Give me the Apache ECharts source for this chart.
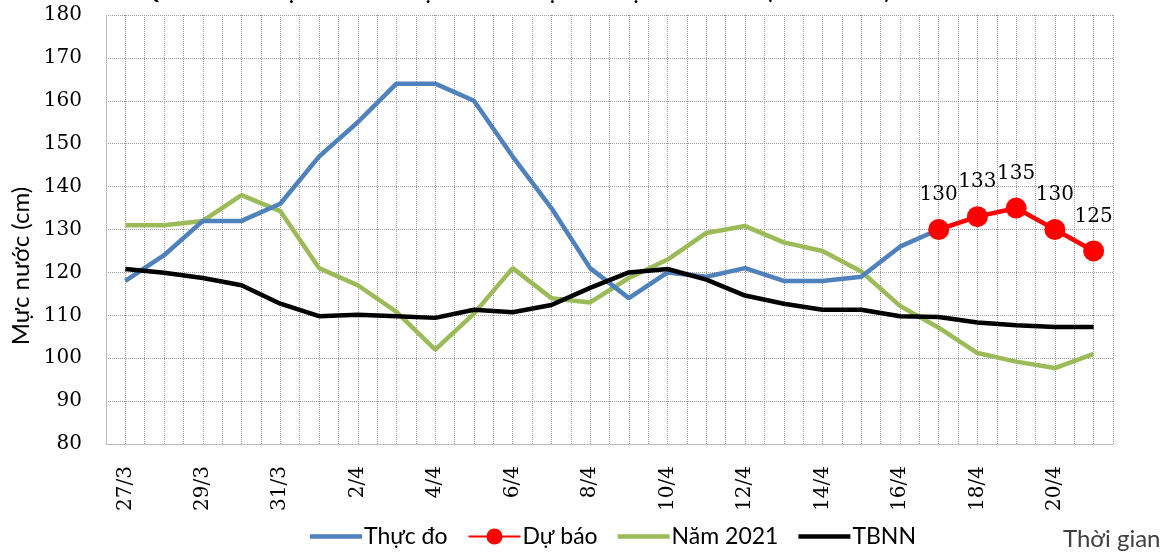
<!DOCTYPE html>
<html>
<head>
<meta charset="utf-8">
<script src="https://cdn.jsdelivr.net/npm/echarts@6/dist/echarts.min.js"></script>
<style>
html,body{margin:0;padding:0;background:#fff;}
#chart{width:1174px;height:559px;}
</style>
</head>
<body>
<div id="chart"></div>
<script>
const categories = ['27/3','28/3','29/3','30/3','31/3','1/4','2/4','3/4','4/4','5/4','6/4','7/4','8/4','9/4','10/4','11/4','12/4','13/4','14/4','15/4','16/4','17/4','18/4','19/4','20/4','21/4'];
const thucDo = [118,124,132,132,136,147,155,164,164,160,147,135,121,114,120,119,121,118,118,119,126,130,null,null,null,null];
const duBao = [null,null,null,null,null,null,null,null,null,null,null,null,null,null,null,null,null,null,null,null,null,130,133,135,130,125];
const nam2021 = [131,131,132,138,134.3,121,117,110.8,102,110.4,121,114,113,118.7,123,129.2,130.8,127,125,120.2,112.2,107.1,101.2,99.2,97.7,101];
const tbnn = [120.8,119.9,118.7,117,112.7,109.8,110.1,109.8,109.4,111.3,110.7,112.4,116.4,120,120.8,118.3,114.6,112.7,111.3,111.3,109.8,109.6,108.3,107.7,107.3,107.3];
const yTicks = {min:80, max:180, step:10};
const seriesNames = ['Thực đo','Dự báo','Năm 2021','TBNN'];
const titleText = 'QUÁ TRÌNH MỰC NƯỚC THỰC ĐO VÀ DỰ BÁO TẠI TÂN CHÂU (SÔNG TIỀN)';
const xName = 'Thời gian';
const yName = 'Mực nước (cm)';

const chart = echarts.init(document.getElementById('chart'), null, {renderer:'canvas'});
const serif = 'DejaVu Serif';
const sans = 'Lato';
const grid = {left:106, right:61, top:15, bottom:115};
const lineIcon = 'path://M0,0 L52,0 L52,4.5 L0,4.5 Z';
const option = {
  animation:false,
  backgroundColor:'#ffffff',
  graphic:[
    {type:'text', left:142, top:-18, style:{text:titleText, font:'bold 21px '+sans, fill:'#000'}},
    {type:'text', left:1063, top:527, style:{text:xName, font:'24px '+sans, fill:'#404040'}},
    {type:'text', x:21, y:266, rotation:Math.PI/2,
      style:{text:yName, font:'24px '+sans, fill:'#000', align:'center', verticalAlign:'middle'}}
  ],
  grid:grid,
  legend:{
    bottom:6, left:305,
    itemWidth:52, itemHeight:20, itemGap:20,
    textStyle:{fontFamily:sans, fontSize:23, color:'#000', padding:[0,0,0,-3]},
    data:[
      {name:seriesNames[0], icon:lineIcon},
      {name:seriesNames[1]},
      {name:seriesNames[2], icon:lineIcon},
      {name:seriesNames[3], icon:lineIcon}
    ]
  },
  xAxis:[{
    type:'category', data:categories, boundaryGap:true,
    axisLine:{show:true, lineStyle:{color:'#bdbdbd', width:1}},
    axisTick:{show:false},
    axisLabel:{interval:1, rotate:90, fontFamily:serif, fontSize:20, color:'#000', margin:22},
    splitLine:{show:false}
  },{
    type:'value', min:0, max:categories.length, interval:0.5, show:true,
    axisLine:{show:false}, axisTick:{show:false}, axisLabel:{show:false},
    splitLine:{show:true, showMinLine:false, lineStyle:{type:'dotted', color:'#9a9a9a', width:1}}
  }],
  yAxis:{
    type:'value', min:yTicks.min, max:yTicks.max, interval:yTicks.step,
    axisLine:{show:true, lineStyle:{color:'#bdbdbd', width:1}},
    axisTick:{show:false},
    axisLabel:{fontFamily:serif, fontSize:20, color:'#000', margin:24},
    splitLine:{show:true, lineStyle:{type:'dotted', color:'#9a9a9a', width:1}}
  },
  series:[
    {name:seriesNames[0], type:'line', data:thucDo, symbol:'none', z:3,
      lineStyle:{color:'#4F81BD', width:4.5}, itemStyle:{color:'#4F81BD'}},
    {name:seriesNames[1], type:'line', data:duBao, symbol:'circle', symbolSize:21, z:6,
      lineStyle:{color:'#FF0000', width:4.5}, itemStyle:{color:'#FF0000'},
      label:{show:true, position:'top', distance:14, fontFamily:serif, fontSize:20, color:'#000'}},
    {name:seriesNames[2], type:'line', data:nam2021, symbol:'none', z:2,
      lineStyle:{color:'#9BBB59', width:4.5}, itemStyle:{color:'#9BBB59'}},
    {name:seriesNames[3], type:'line', data:tbnn, symbol:'none', z:4,
      lineStyle:{color:'#000000', width:4.5}, itemStyle:{color:'#000000'}}
  ]
};
chart.setOption(option);
</script>
</body>
</html>
